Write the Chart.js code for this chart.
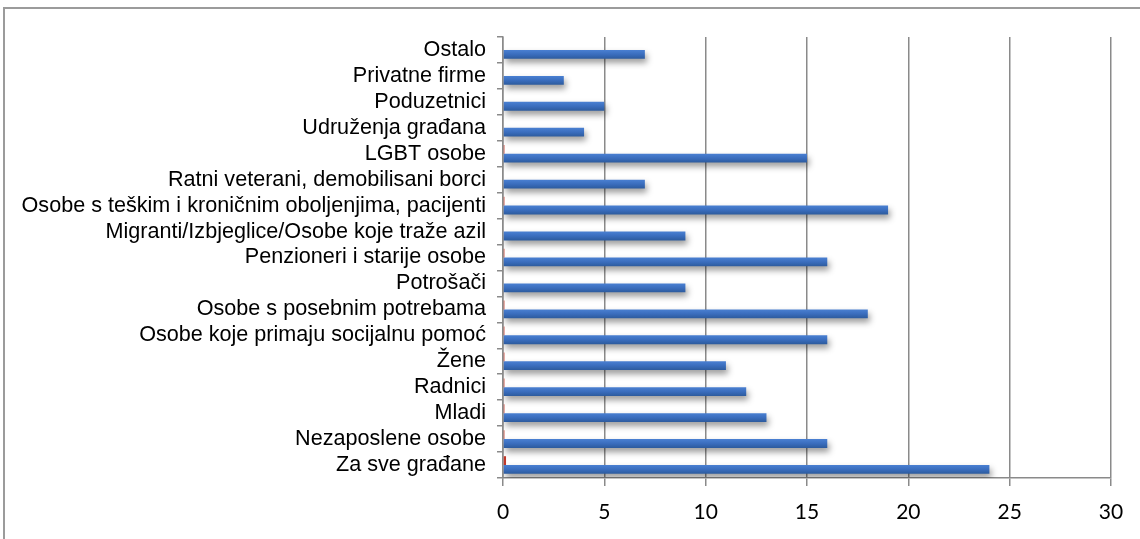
<!DOCTYPE html>
<html>
<head>
<meta charset="utf-8">
<script src="https://cdn.jsdelivr.net/npm/chart.js@4/dist/chart.umd.min.js"></script>
<style>
  body { margin: 0; background: #fff; }
  #okvir { position: absolute; left: 3px; top: 7px; width: 1140px; height: 540px; border: 2px solid #9b9b9b; box-sizing: border-box; }
  #wrap { position: absolute; left: 0; top: 0; width: 1140px; height: 539px; }
</style>
</head>
<body>
<div id="okvir"></div>
<div id="wrap"><canvas id="grafBarras" width="1140" height="539"></canvas></div>
<script>
// kategorije (odozgo prema dolje)
var kategorije = [
  "Ostalo",
  "Privatne firme",
  "Poduzetnici",
  "Udruženja građana",
  "LGBT osobe",
  "Ratni veterani, demobilisani borci",
  "Osobe s teškim i kroničnim oboljenjima, pacijenti",
  "Migranti/Izbjeglice/Osobe koje traže azil",
  "Penzioneri i starije osobe",
  "Potrošači",
  "Osobe s posebnim potrebama",
  "Osobe koje primaju socijalnu pomoć",
  "Žene",
  "Radnici",
  "Mladi",
  "Nezaposlene osobe",
  "Za sve građane"
];

// plava serija
var vrijednosti = [7, 3, 5, 4, 15, 7, 19, 9, 16, 9, 18, 16, 11, 12, 13, 16, 24];

// crvena serija (jedva vidljiva)
var crvena = [0, 0, 0, 0, 0.07, 0, 0.07, 0, 0.07, 0, 0.07, 0.07, 0.07, 0.07, 0.07, 0.07, 0.15];

var xTicks = [0, 5, 10, 15, 20, 25, 30];

/* gradijent za plave trake */
function plavaBoja(context) {
  var chart = context.chart;
  var y = chart.scales.y;
  if (!chart.chartArea || !y) return "#3a6dbd";
  var sredina = y.getPixelForValue(context.dataIndex);
  var g = chart.ctx.createLinearGradient(0, sredina, 0, sredina + 9);
  g.addColorStop(0, "#4a80d2");
  g.addColorStop(0.5, "#3a6dbd");
  g.addColorStop(1, "#2c5a9c");
  return g;
}

/* sjena ispod plavih traka */
var sjena = {
  id: "sjena",
  beforeDatasetDraw: function (chart, args) {
    if (args.index !== 1) return;
    var ctx = chart.ctx;
    ctx.save();
    ctx.shadowColor = "rgba(0,0,0,0.4)";
    ctx.shadowBlur = 6;
    ctx.shadowOffsetX = 2;
    ctx.shadowOffsetY = 4;
  },
  afterDatasetDraw: function (chart, args) {
    if (args.index !== 1) return;
    chart.ctx.restore();
  }
};

var platno = document.getElementById("grafBarras").getContext("2d");

var graf = new Chart(platno, {
  type: "bar",
  data: {
    labels: kategorije,
    datasets: [
      { label: "crvena", data: crvena, backgroundColor: "#c0392b", barPercentage: 1, categoryPercentage: 0.68 },
      { label: "plava", data: vrijednosti, backgroundColor: plavaBoja, barPercentage: 1, categoryPercentage: 0.68 }
    ]
  },
  plugins: [sjena],
  options: {
    indexAxis: "y",
    responsive: false,
    animation: false,
    layout: { padding: { left: 0, top: 37, right: 29, bottom: 0 } },
    plugins: {
      legend: { display: false },
      tooltip: { enabled: false }
    },
    scales: {
      x: {
        min: 0,
        max: 30,
        afterFit: function (s) { s.height = 61; },
        afterBuildTicks: function (s) { s.ticks = xTicks.map(function (v) { return { value: v }; }); },
        border: { display: true, color: "#8a8a8a", width: 1.5 },
        grid: { color: "#8a8a8a", lineWidth: 1.5, tickLength: 8, drawTicks: true },
        ticks: { color: "#000", padding: 14, font: { family: "Lato", size: 21 } }
      },
      y: {
        afterFit: function (s) { s.width = 503; },
        border: { display: true, color: "#8a8a8a", width: 1.5 },
        grid: { offset: true, drawOnChartArea: false, drawTicks: true, tickLength: 6, color: "#8a8a8a", lineWidth: 1.5 },
        ticks: { color: "#000", padding: 11, autoSkip: false, font: { family: "Liberation Sans", size: 21.6 } }
      }
    }
  }
});
</script>
</body>
</html>
